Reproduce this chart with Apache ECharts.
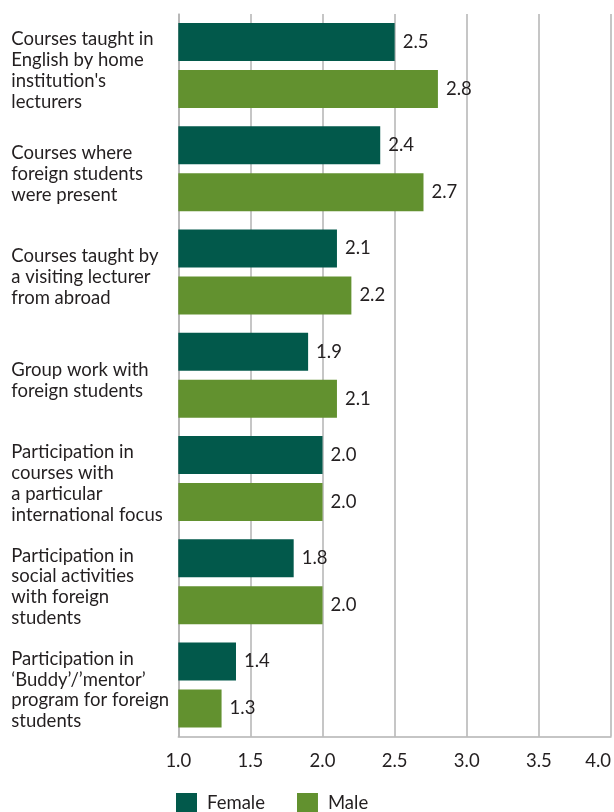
<!DOCTYPE html>
<html>
<head>
<meta charset="utf-8">
<script src="https://cdn.jsdelivr.net/npm/echarts@6/dist/echarts.min.js"></script>
<style>html,body{margin:0;padding:0;background:#fff}#c{width:614px;height:812px}</style>
</head>
<body>
<div id="c"></div>
<script>
var categories = [
  "Courses taught in\nEnglish by home\ninstitution's\nlecturers",
  "Courses where\nforeign students\nwere present",
  "Courses taught by\na visiting lecturer\nfrom abroad",
  "Group work with\nforeign students",
  "Participation in\ncourses with\na particular\ninternational focus",
  "Participation in\nsocial activities\nwith foreign\nstudents",
  "Participation in\n\u2018Buddy\u2019/\u2019mentor\u2019\nprogram for foreign\nstudents"
];
var female = [2.5, 2.4, 2.1, 1.9, 2.0, 1.8, 1.4];
var male = [2.8, 2.7, 2.2, 2.1, 2.0, 2.0, 1.3];
var seriesNames = ["Female", "Male"];
var axisMin = 1.0, axisMax = 4.0, axisStep = 0.5;

var FONT = "Lato";
var FS = 18.5;
var TXT = "#231f20";
var GRID = "#b3b3b3";
var chart = echarts.init(document.getElementById('c'), null, {renderer: 'canvas'});
var lbl = {
  show: true, position: 'right', distance: 8,
  fontFamily: FONT, fontSize: FS, color: TXT,
  formatter: function (p) { return p.value.toFixed(1); }
};
chart.setOption({
  animation: false,
  textStyle: {fontFamily: FONT},
  grid: {left: 178.3, right: 1.3, top: 13.9, bottom: 75.4, containLabel: false},
  legend: {
    data: seriesNames, left: 176, top: 793, padding: 0,
    itemWidth: 21, itemHeight: 20, itemGap: 32, icon: 'rect',
    textStyle: {fontFamily: FONT, fontSize: FS, color: TXT, padding: [0, 0, 0, 5]}
  },
  xAxis: {
    type: 'value', min: axisMin, max: axisMax, interval: axisStep,
    axisLine: {show: true, lineStyle: {color: GRID, width: 1.5}},
    axisTick: {show: false},
    splitLine: {show: true, lineStyle: {color: GRID, width: 1.5}},
    axisLabel: {
      fontFamily: FONT, fontSize: FS, color: TXT, margin: 15, alignMaxLabel: 'right',
      formatter: function (v) { return v.toFixed(1); }
    }
  },
  yAxis: {
    type: 'category', data: categories, inverse: true,
    axisLine: {show: true, lineStyle: {color: GRID, width: 1.5}},
    axisTick: {show: false},
    axisLabel: {
      align: 'left', margin: 167, fontFamily: FONT, fontSize: FS,
      lineHeight: 20.8, color: TXT,
      formatter: function (v) { return '{g|}\n' + v; },
      rich: {g: {lineHeight: 10, height: 10, fontSize: 8}}
    }
  },
  series: [
    {name: seriesNames[0], type: 'bar', data: female, barWidth: 38, barGap: '23.7%',
     itemStyle: {color: '#02594b'}, label: lbl},
    {name: seriesNames[1], type: 'bar', data: male, barWidth: 38,
     itemStyle: {color: '#62912f'}, label: lbl}
  ]
});
</script>
</body>
</html>
